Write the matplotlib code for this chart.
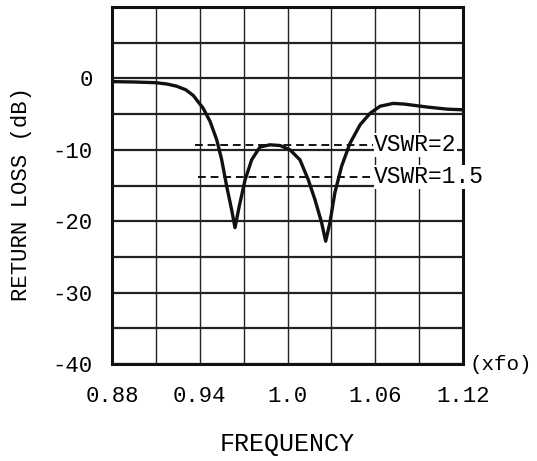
import numpy as np
import matplotlib.pyplot as plt

# return loss curve (x in units of fo, y in dB)
freq = [0.880, 0.895, 0.910, 0.918, 0.9243, 0.9305, 0.9356, 0.9424, 0.947, 0.9516,
        0.955, 0.9584, 0.9618, 0.9641, 0.967, 0.971, 0.9755, 0.9812, 0.988, 0.9949,
        1.0017, 1.0085, 1.0142, 1.0188, 1.0233, 1.0261, 1.029, 1.0324, 1.037, 1.0427,
        1.0496, 1.0564, 1.0632, 1.0723, 1.080, 1.095, 1.109, 1.120]
loss = [-0.45, -0.5, -0.6, -0.8, -1.1, -1.6, -2.4, -4.2, -6.0, -8.6,
        -11.4, -15.1, -18.4, -20.9, -17.9, -14.2, -11.4, -9.6, -9.3, -9.4,
        -10.0, -11.4, -14.2, -17.0, -20.2, -22.8, -20.2, -16.0, -12.3, -9.1,
        -6.5, -4.9, -3.9, -3.5, -3.6, -4.0, -4.3, -4.4]

# VSWR reference levels
vswr_labels = ["VSWR=2", "VSWR=1.5"]
vswr_levels = [-9.3, -13.8]
vswr_start = [0.937, 0.939]
vswr_end = 1.0585

xticks = [0.88, 0.94, 1.0, 1.06, 1.12]
xticklabels = ["0.88", "0.94", "1.0", "1.06", "1.12"]
yticks = [-40, -35, -30, -25, -20, -15, -10, -5, 0, 5, 10]
yticklabels = ["-40", "", "-30", "", "-20", "", "-10", "", "0", "", ""]

plt.rcParams['font.family'] = ['Liberation Mono', 'DejaVu Sans Mono']

fig = plt.figure(figsize=(5.37, 4.61), dpi=100)
ax = fig.add_axes([0.2086, 0.2104, 0.6536, 0.7744])

# grid
for x in np.arange(0.88, 1.1201, 0.03):
    ax.axvline(x, color='#222222', lw=1.0, zorder=1)
for y in yticks:
    ax.axhline(y, color='#222222', lw=1.6, zorder=1)

ax.plot(freq, loss, color='#111111', lw=2.4, zorder=4,
        solid_capstyle='round', solid_joinstyle='round')

for lab, lev, x0 in zip(vswr_labels, vswr_levels, vswr_start):
    ax.plot([x0, vswr_end], [lev, lev], color='#111111', lw=1.4,
            ls=(0, (4, 2.5)), zorder=3)
    ax.text(vswr_end + 0.0008, lev, lab, fontsize=16.5, va='center', ha='left',
            zorder=5, clip_on=False,
            bbox=dict(facecolor='white', edgecolor='none', pad=0.4))

ax.set_xlim(0.88, 1.12)
ax.set_ylim(-40, 10)
ax.set_xticks(xticks)
ax.set_xticklabels(xticklabels)
ax.set_yticks(yticks)
ax.set_yticklabels(yticklabels)
ax.tick_params(length=0, labelsize=16)
ax.tick_params(axis='x', pad=16)
ax.tick_params(axis='y', pad=14)
for s in ax.spines.values():
    s.set_linewidth(2.2)
    s.set_color('#111111')
    s.set_zorder(3)

ax.annotate("(xfo)", xy=(1.12, -40), xytext=(5, 0), textcoords='offset points',
            fontsize=15, va='center', ha='left', annotation_clip=False)

ax.set_xlabel("FREQUENCY", fontsize=18, labelpad=18)
ax.set_ylabel("RETURN LOSS (dB)", fontsize=16)
ax.yaxis.set_label_coords(-0.228, 0.476)

fig.savefig("out.png", dpi=100)
